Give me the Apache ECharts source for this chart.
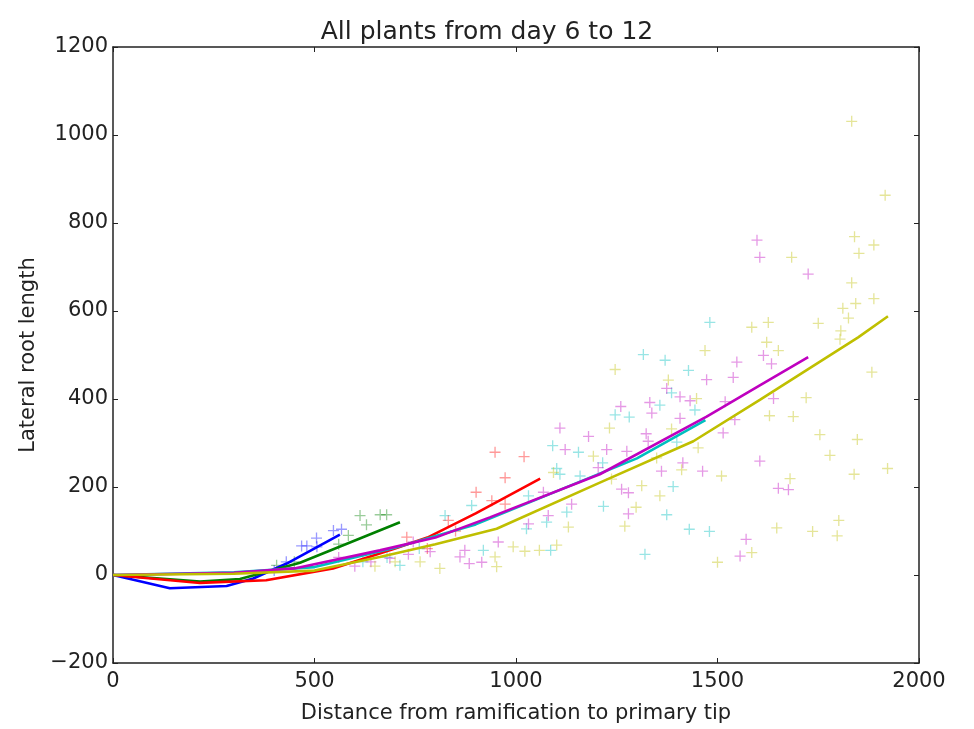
<!DOCTYPE html>
<html><head><meta charset="utf-8">
<script src="https://cdn.jsdelivr.net/npm/echarts@6/dist/echarts.min.js"></script>
<style>html,body{margin:0;padding:0;background:#fff}#c{width:974px;height:729px}</style>
</head><body><div id="c"></div>
<script>
const xTicks = [0, 500, 1000, 1500, 2000];
const yTicks = [-200, 0, 200, 400, 600, 800, 1000, 1200];

const blueLine = [[0,0],[141,-30],[282,-25],[348,-8],[431,26],[563,92]];
const greenLine = [[0,0],[216,-15],[315,-9],[464,28],[712,120]];
const redLine = [[0,0],[216,-18],[380,-12],[546,15],[700,60],[780,85],[900,140],[1060,219]];
const cyanLine = [[0,0],[300,6],[500,18],[700,62],[900,115],[1100,190],[1300,265],[1470,352]];
const magentaLine = [[0,0],[300,5],[450,15],[662,56],[800,85],[935,131],[1208,229],[1473,360],[1605,431],[1725,495]];
const yellowLine = [[0,0],[300,3],[500,10],[662,41],[800,70],[952,105],[1208,210],[1440,304],[1605,398],[1849,540],[1923,588]];

const bluePts = [[468,66],[481,66],[505,84],[547,101],[567,104],[506,64],[430,30],[400,10]];
const greenPts = [[613,135],[629,114],[663,137],[679,137],[584,90],[406,22],[450,30],[560,70]];
const redPts = [[948,279],[1020,269],[973,221],[901,188],[940,169],[973,161],[832,124],[729,86],[780,60],[850,100]];
const cyanPts = [[1481,574],[1316,501],[1370,488],[1428,465],[1386,414],[1357,386],[1246,364],[1281,359],[1444,375],[1399,302],[1215,255],[1390,201],[1217,156],[1374,137],[1430,104],[1480,99],[1320,47],[1091,294],[1155,279],[1101,242],[1109,229],[1159,225],[1031,180],[890,158],[824,135],[1126,143],[1076,120],[1026,105],[919,56],[1086,56],[712,22],[620,30],[760,60],[680,40]];
const magentaPts = [[1598,761],[1605,722],[1725,684],[1614,499],[1634,480],[1639,401],[1605,259],[1651,197],[1676,194],[1548,484],[1473,444],[1539,449],[1374,424],[1407,405],[1432,396],[1260,383],[1332,392],[1337,368],[1407,356],[1519,394],[1323,321],[1328,304],[1514,323],[1543,353],[1225,285],[1275,281],[1414,255],[1361,236],[1463,236],[1262,195],[1279,187],[1279,139],[1571,81],[1556,43],[1109,334],[1180,315],[1122,285],[1204,244],[1068,188],[1138,161],[1080,135],[1031,116],[745,75],[956,75],[873,56],[787,53],[861,41],[915,29],[884,26],[733,47],[687,38],[600,20],[640,30],[560,40]];
const yellowPts = [[1833,1031],[1916,863],[1840,769],[1888,750],[1851,731],[1684,722],[1833,664],[1888,628],[1811,606],[1843,617],[1825,584],[1626,574],[1750,572],[1806,555],[1622,529],[1651,510],[1804,536],[1883,461],[1720,403],[1629,362],[1688,360],[1754,319],[1847,308],[1779,272],[1839,229],[1922,242],[1680,219],[1801,124],[1647,107],[1736,99],[1797,89],[1585,563],[1469,510],[1246,467],[1378,443],[1448,401],[1232,334],[1386,332],[1452,289],[1349,266],[1411,239],[1510,225],[1237,218],[1312,203],[1357,180],[1298,154],[1270,111],[1585,51],[1500,29],[1192,270],[1093,233],[1130,109],[993,64],[1022,54],[1058,56],[1101,68],[948,41],[952,19],[811,15],[762,30],[700,30],[650,20]];

const C = {b:'#0000ff', g:'#008000', r:'#ff0000', c:'#00bfbf', m:'#bf00bf', y:'#bfbf00'};
const plus = 'path://M4.4,0H5.6V4.4H10V5.6H5.6V10H4.4V5.6H0V4.4H4.4Z';
const FONT = 'DejaVu Sans';

function scat(data, col){
  return {type:'scatter', data, symbol:plus, symbolSize:11, silent:true,
    itemStyle:{color:col, opacity:0.4}, z:2};
}
function line(data, col){
  return {type:'line', data, showSymbol:false, symbol:'none', silent:true,
    lineStyle:{color:col, width:2.6}, z:5};
}
const fmt = v => String(v).replace('-', '\u2212');
const axLine = {show:true, onZero:false, lineStyle:{color:'#222', width:1.5}};
const tick = {show:true, inside:true, length:5, lineStyle:{color:'#222'}};
const chart = echarts.init(document.getElementById('c'));
chart.setOption({
  animation:false,
  backgroundColor:'#fff',
  title:{text:'All plants from day 6 to 12', left:'center', top:15,
    textStyle:{fontFamily:FONT, fontSize:25, fontWeight:'normal', color:'#222'}},
  grid:{left:113, right:55, top:47, bottom:59},
  xAxis:[
    {type:'value', min:0, max:2000, interval:500, position:'bottom',
     name:'Distance from ramification to primary tip', nameLocation:'middle', nameGap:40,
     nameTextStyle:{fontFamily:FONT, fontSize:21, color:'#222'},
     axisLine:axLine, axisTick:tick, splitLine:{show:false},
     axisLabel:{fontFamily:FONT, fontSize:21, color:'#222', margin:8, formatter:fmt}},
    {type:'value', min:0, max:2000, interval:500, position:'top',
     axisLine:axLine, axisTick:tick, splitLine:{show:false}, axisLabel:{show:false}}
  ],
  yAxis:[
    {type:'value', min:-200, max:1200, interval:200, position:'left',
     name:'Lateral root length', nameLocation:'middle', nameGap:69, nameRotate:90,
     nameTextStyle:{fontFamily:FONT, fontSize:21, color:'#222'},
     axisLine:axLine, axisTick:tick, splitLine:{show:false},
     axisLabel:{fontFamily:FONT, fontSize:21, color:'#222', margin:5, formatter:fmt}},
    {type:'value', min:-200, max:1200, interval:200, position:'right',
     axisLine:axLine, axisTick:tick, splitLine:{show:false}, axisLabel:{show:false}}
  ],
  series:[
    scat(bluePts, C.b), scat(greenPts, C.g), scat(redPts, C.r),
    scat(cyanPts, C.c), scat(magentaPts, C.m), scat(yellowPts, C.y),
    line(blueLine, C.b), line(greenLine, C.g), line(redLine, C.r),
    line(cyanLine, C.c), line(magentaLine, C.m), line(yellowLine, C.y)
  ]
});
</script></body></html>
